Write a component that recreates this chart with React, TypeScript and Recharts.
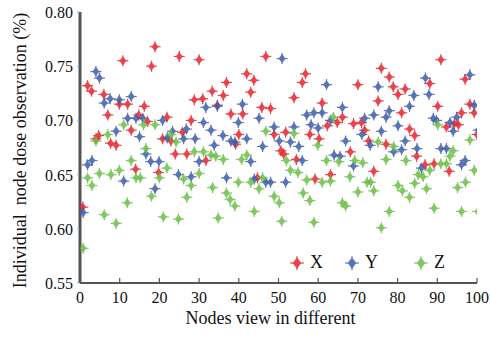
import { ScatterChart, Scatter, XAxis, YAxis } from "recharts";

const FONT = "'Liberation Serif', 'Times New Roman', serif";

// x ticks / y ticks
const X_TICKS = [0, 10, 20, 30, 40, 50, 60, 70, 80, 90, 100];
const Y_TICKS = [0.55, 0.6, 0.65, 0.7, 0.75, 0.8];

// series X (red)
const X_POS = [0.7, 1.9, 2.9, 4, 4.7, 6, 7, 7.7, 9.1, 9.9, 10.8, 12, 12.9, 14, 14.8, 16.2, 17, 18, 18.9, 19.8, 20.8, 21.9, 22.9, 24, 25, 25.8, 26.9, 28, 28.8, 30, 30.9, 31.7, 33.3, 34.6, 36.1, 36.9, 38, 39.2, 40, 41, 42, 43, 43.8, 44.7, 45.8, 46.8, 48, 48.9, 50.6, 51.3, 51.8, 53.9, 54.5, 56, 56.8, 57.9, 59.2, 60.2, 61, 62.3, 63.1, 64.8, 66.1, 68.1, 68.9, 70, 70.9, 71.7, 72.7, 74, 75.1, 75.9, 77.1, 77.9, 78.9, 80.1, 81, 81.9, 83, 84.3, 84.8, 86.9, 88.1, 89.2, 90.1, 90.9, 92.3, 93, 94.3, 95.3, 96.1, 97, 98.2, 99.3, 100];
const X_VAL = [0.62, 0.732, 0.727, 0.683, 0.686, 0.724, 0.705, 0.679, 0.677, 0.715, 0.755, 0.715, 0.691, 0.655, 0.705, 0.713, 0.699, 0.75, 0.768, 0.652, 0.683, 0.703, 0.681, 0.669, 0.759, 0.689, 0.669, 0.7, 0.719, 0.756, 0.72, 0.663, 0.727, 0.714, 0.723, 0.735, 0.706, 0.678, 0.687, 0.706, 0.743, 0.726, 0.737, 0.647, 0.712, 0.759, 0.711, 0.687, 0.672, 0.669, 0.689, 0.721, 0.664, 0.735, 0.743, 0.687, 0.646, 0.683, 0.716, 0.695, 0.65, 0.698, 0.703, 0.671, 0.697, 0.733, 0.698, 0.691, 0.681, 0.653, 0.718, 0.748, 0.678, 0.74, 0.731, 0.724, 0.707, 0.729, 0.692, 0.686, 0.667, 0.659, 0.734, 0.66, 0.713, 0.756, 0.694, 0.653, 0.697, 0.696, 0.707, 0.738, 0.715, 0.707, 0.687];

// series Y (blue)
const Y_POS = [0.8, 1.9, 3, 4, 4.9, 6.1, 7.6, 9.1, 9.9, 11, 12, 12.9, 14.1, 15, 15.8, 16.6, 17.8, 18.9, 19.9, 20.8, 22, 23.3, 24.8, 26.1, 26.8, 28, 29, 30, 31.1, 31.7, 33, 33.8, 34.6, 36, 36.9, 38, 39, 39.9, 40.9, 42, 43, 43.9, 45.1, 46, 46.8, 48, 48.9, 50.2, 50.9, 51.8, 53, 53.9, 55.1, 56, 57.1, 58.2, 58.9, 60, 61, 62.1, 63.1, 64, 65.5, 66.1, 66.9, 68.9, 71, 71.7, 73.1, 74, 75.1, 75.9, 77.1, 77.9, 79, 80.1, 81, 81.9, 83, 84.1, 84.9, 86, 87, 87.9, 89, 89.8, 90.9, 92.3, 93.2, 94, 94.9, 96.1, 97, 98.2, 99.3, 100.3];
const Y_VAL = [0.615, 0.659, 0.663, 0.745, 0.739, 0.716, 0.72, 0.69, 0.719, 0.644, 0.702, 0.722, 0.702, 0.685, 0.702, 0.669, 0.662, 0.637, 0.662, 0.7, 0.684, 0.69, 0.65, 0.683, 0.692, 0.648, 0.683, 0.662, 0.698, 0.712, 0.691, 0.677, 0.713, 0.686, 0.647, 0.681, 0.68, 0.698, 0.715, 0.683, 0.662, 0.646, 0.702, 0.676, 0.643, 0.643, 0.694, 0.681, 0.757, 0.643, 0.68, 0.694, 0.676, 0.663, 0.705, 0.696, 0.707, 0.693, 0.707, 0.733, 0.7, 0.668, 0.667, 0.712, 0.681, 0.658, 0.687, 0.702, 0.677, 0.705, 0.731, 0.69, 0.703, 0.709, 0.671, 0.695, 0.673, 0.681, 0.713, 0.723, 0.674, 0.656, 0.739, 0.724, 0.702, 0.7, 0.674, 0.674, 0.698, 0.69, 0.703, 0.659, 0.663, 0.742, 0.714, 0.691];

// series Z (green)
const Z_POS = [0.8, 1.9, 3, 4, 4.9, 6.1, 7, 7.8, 9.1, 9.9, 11, 11.9, 12.9, 14.1, 15.2, 16, 16.6, 18, 18.9, 20, 21, 21.9, 22.9, 24.2, 24.8, 26.1, 26.9, 28, 28.8, 30, 31.1, 33, 33.4, 34.2, 34.8, 36.1, 36.9, 37.8, 39, 39.9, 40.7, 42, 43, 43.9, 45.1, 46, 46.8, 48.9, 50.2, 50.8, 52, 53, 53.9, 54.9, 56.2, 57.1, 57.9, 58.9, 59.9, 61, 62.1, 63.1, 63.8, 65.2, 66.1, 66.9, 68, 69.2, 70, 71.2, 72.3, 73.2, 74, 75.1, 75.9, 77.1, 77.9, 79, 80.1, 81.2, 82.1, 83, 84.3, 85.2, 86.4, 87.3, 88.1, 89.2, 90.1, 90.9, 92.3, 93.2, 94, 95.1, 96.1, 97.1, 98.2, 99.3, 100.2];
const Z_VAL = [0.582, 0.647, 0.64, 0.681, 0.651, 0.613, 0.687, 0.65, 0.605, 0.654, 0.696, 0.624, 0.663, 0.647, 0.647, 0.696, 0.674, 0.63, 0.696, 0.647, 0.611, 0.656, 0.687, 0.68, 0.609, 0.646, 0.629, 0.64, 0.671, 0.651, 0.671, 0.668, 0.638, 0.667, 0.61, 0.664, 0.633, 0.627, 0.621, 0.643, 0.664, 0.668, 0.643, 0.616, 0.637, 0.647, 0.69, 0.63, 0.624, 0.607, 0.663, 0.654, 0.688, 0.652, 0.633, 0.645, 0.626, 0.606, 0.677, 0.643, 0.663, 0.644, 0.703, 0.662, 0.624, 0.621, 0.648, 0.663, 0.634, 0.661, 0.643, 0.643, 0.635, 0.68, 0.601, 0.664, 0.616, 0.676, 0.64, 0.635, 0.663, 0.629, 0.642, 0.65, 0.648, 0.637, 0.654, 0.619, 0.696, 0.66, 0.66, 0.667, 0.672, 0.638, 0.616, 0.643, 0.682, 0.654, 0.616];

const SERIES = [
  { name: "X", color: "#e8232d", pos: X_POS, val: X_VAL, legendLeft: 288 },
  { name: "Y", color: "#3d5daa", pos: Y_POS, val: Y_VAL, legendLeft: 343 },
  { name: "Z", color: "#6cbf48", pos: Z_POS, val: Z_VAL, legendLeft: 412 },
];

function Star({ cx, cy, fill, r = 1 }: { cx?: number; cy?: number; fill?: string; r?: number }) {
  if (cx == null || cy == null) return null;
  const d = `M${cx},${cy - 4.5 * r} L${cx + 3.5 * r},${cy} L${cx},${cy + 4.5 * r} L${cx - 3.5 * r},${cy} Z`;
  return (
    <g opacity={0.85}>
      <path d={d} fill={fill} />
      <line x1={cx - 5.5 * r} x2={cx + 5.5 * r} y1={cy} y2={cy} stroke={fill} strokeWidth={1.2} />
      <line x1={cx} x2={cx} y1={cy - 5.5 * r} y2={cy + 5.5 * r} stroke={fill} strokeWidth={1.2} />
    </g>
  );
}

function BottomTick({ x, y, payload }: any) {
  return (
    <g>
      <line x1={x} x2={x} y1={y} y2={y - 5} stroke="#555" strokeWidth={1.2} />
      <text x={x} y={y + 20} textAnchor="middle" fontFamily={FONT} fontSize={16} fill="#111">
        {payload.value}
      </text>
    </g>
  );
}

function TopTick({ x, y }: any) {
  return <line x1={x} x2={x} y1={y} y2={y + 5} stroke="#555" strokeWidth={1.2} />;
}

function LeftTick({ x, y, payload }: any) {
  return (
    <g>
      <line x1={x - 3} x2={x - 1} y1={y} y2={y} stroke="#8fd3e8" strokeWidth={1.5} />
      <text x={x - 7} y={y + 6} textAnchor="end" fontFamily={FONT} fontSize={16} fill="#111">
        {Number(payload.value).toFixed(2)}
      </text>
    </g>
  );
}

function RightTick({ x, y }: any) {
  return <line x1={x} x2={x - 5} y1={y} y2={y} stroke="#555" strokeWidth={1.2} />;
}

function XTitle({ viewBox }: any) {
  const cx = viewBox.x + viewBox.width / 2 - 8;
  return (
    <text x={cx} y={324} textAnchor="middle" fontFamily={FONT} fontSize={18} fill="#111">
      Nodes view in different
    </text>
  );
}

function YTitle({ viewBox }: any) {
  const cy = viewBox.y + viewBox.height / 2 + 3;
  return (
    <text
      x={20}
      y={cy}
      transform={`rotate(-90 20 ${cy})`}
      textAnchor="middle"
      dominantBaseline="central"
      fontFamily={FONT}
      fontSize={18}
      fill="#111"
      style={{ whiteSpace: "pre" }}
    >
      {"Individual  node dose observation (%)"}
    </text>
  );
}

export default function App() {
  return (
    <div style={{ position: "absolute", left: 0, top: 0, width: 490, height: 337, background: "#fff" }}>
      <ScatterChart width={490} height={337} margin={{ top: 12, right: 13, bottom: 0, left: 0 }}>
        <XAxis
          xAxisId={0}
          type="number"
          dataKey="x"
          domain={[0, 100]}
          ticks={X_TICKS}
          allowDataOverflow
          height={54}
          tickSize={0}
          tickMargin={0}
          tickLine={false}
          tick={<BottomTick />}
          axisLine={{ stroke: "#555", strokeWidth: 2 }}
          label={<XTitle />}
        />
        <XAxis
          xAxisId="top"
          orientation="top"
          type="number"
          domain={[0, 100]}
          ticks={X_TICKS}
          height={0}
          tickSize={0}
          tickMargin={0}
          tickLine={false}
          tick={<TopTick />}
          axisLine={{ stroke: "#444", strokeWidth: 1.5 }}
        />
        <YAxis
          yAxisId={0}
          type="number"
          dataKey="y"
          domain={[0.55, 0.8]}
          ticks={Y_TICKS}
          allowDataOverflow
          width={80}
          tickSize={0}
          tickMargin={0}
          tickLine={false}
          tick={<LeftTick />}
          axisLine={{ stroke: "#555", strokeWidth: 3 }}
          label={<YTitle />}
        />
        <YAxis
          yAxisId="right"
          orientation="right"
          type="number"
          domain={[0.55, 0.8]}
          ticks={Y_TICKS}
          width={0}
          tickSize={0}
          tickMargin={0}
          tickLine={false}
          tick={<RightTick />}
          axisLine={{ stroke: "#555", strokeWidth: 2 }}
        />
        {SERIES.map(s => (
          <Scatter
            key={s.name}
            name={s.name}
            xAxisId={0}
            yAxisId={0}
            data={s.pos.map((p, i) => ({ x: p, y: s.val[i] }))}
            fill={s.color}
            shape={(p: any) => <Star cx={p.cx} cy={p.cy} fill={s.color} />}
            isAnimationActive={false}
          />
        ))}
      </ScatterChart>
      {SERIES.map(s => (
        <div
          key={s.name}
          style={{
            position: "absolute",
            left: s.legendLeft,
            top: 252,
            display: "flex",
            alignItems: "center",
            fontFamily: FONT,
            fontSize: 18,
            color: "#111",
          }}
        >
          <svg width={18} height={18}>
            <Star cx={9} cy={9} fill={s.color} r={1.25} />
          </svg>
          <span style={{ marginLeft: 4 }}>{s.name}</span>
        </div>
      ))}
    </div>
  );
}
